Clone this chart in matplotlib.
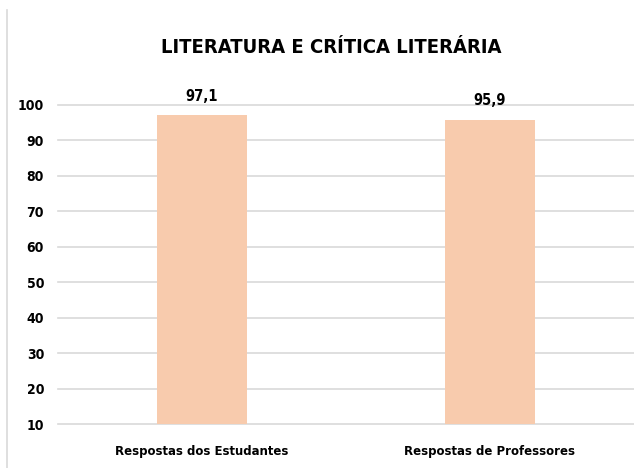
import matplotlib
matplotlib.use("Agg")
import matplotlib.pyplot as plt
from matplotlib.lines import Line2D

categories = ["Respostas dos Estudantes", "Respostas de Professores"]
values = [97.1, 95.9]
value_labels = ["97,1", "95,9"]
yticks = [10, 20, 30, 40, 50, 60, 70, 80, 90, 100]
title = "LITERATURA E CRÍTICA LITERÁRIA"

plt.rcParams['font.family'] = ['DejaVu Sans']
plt.rcParams['font.stretch'] = 'condensed'

fig = plt.figure(figsize=(6.34, 4.68), dpi=100)
ax = fig.add_axes([58/634, 1-424/468, 1-58/634, (424-105)/468])

x = range(len(categories))
ax.bar(x, values, width=0.31, color="#F8CBAD", zorder=2)
ax.set_xlim(-0.5, 1.5)
ax.set_ylim(10, 100)
ax.set_yticks(yticks)
ax.set_yticklabels([str(t) for t in yticks], fontsize=10, fontweight="bold", fontstretch="condensed")
ax.set_xticks(list(x))
ax.set_xticklabels(categories, fontsize=9.4, fontweight="bold", fontstretch="condensed")
ax.tick_params(axis="both", length=0)
ax.tick_params(axis="y", pad=10)
ax.tick_params(axis="x", pad=15)
ax.grid(axis="y", color="#D9D9D9", linewidth=1.2, zorder=0)
for gl in ax.get_ygridlines():
    gl.set_clip_on(False)
for s in ax.spines.values():
    s.set_visible(False)

for xi, v, lab in zip(x, values, value_labels):
    ax.annotate(lab, (xi, v), xytext=(0, 8), textcoords="offset points",
                ha="center", va="bottom", fontsize=10.5, fontweight="bold",
                fontstretch="condensed", annotation_clip=False)

fig.text(331/634, 1-47.5/468, title, ha="center", va="center",
         fontsize=14.5, fontweight="bold", fontstretch="condensed")

fig.add_artist(Line2D([7/634, 7/634], [0, 1-10/468], color="#D9D9D9",
                      linewidth=1.2, transform=fig.transFigure))

fig.savefig("out.png", dpi=100, facecolor="white")
